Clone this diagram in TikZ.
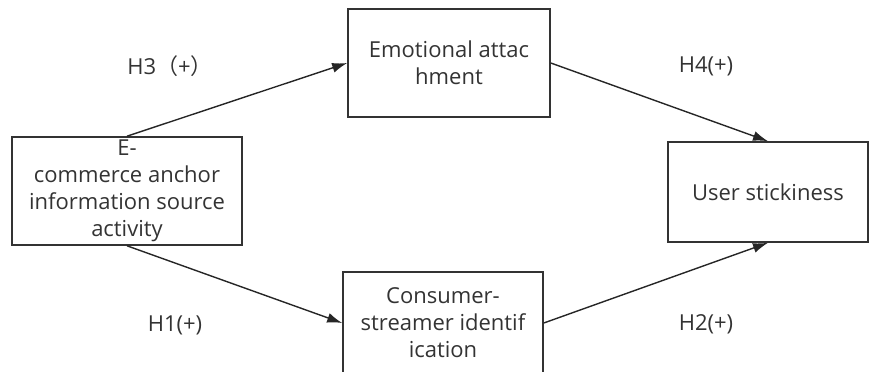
\documentclass[tikz,border=0pt]{standalone}
\usepackage{fontspec}
\setmainfont{Open Sans}
\newfontfamily\cjkfont{Noto Sans CJK SC}
\usepackage{tikz}
\usetikzlibrary{arrows.meta}

\begin{document}
\begin{tikzpicture}[x=1pt,y=-1pt,
    box/.style={draw=black!80,line width=1.6pt,align=center,text=black!80,font=\fontsize{22}{27}\selectfont,inner sep=0pt},
    hyp/.style={text=black!80,font=\fontsize{22}{26}\selectfont},
    link/.style={draw=black!85,line width=1.4pt,-{Latex[length=15pt,width=10pt]}}]
    \useasboundingbox (0,0) rectangle (870,372);
    \node[box,minimum width=230pt,minimum height=108pt] (src) at (127,191) {E-\\commerce anchor\\information source\\activity};
    \node[box,minimum width=202pt,minimum height=108pt] (emo) at (449,63) {Emotional attac\\hment};
    \node[box,minimum width=200pt,minimum height=102pt] (ident) at (443,323) {Consumer-\\streamer identif\\ication};
    \node[box,minimum width=200pt,minimum height=100pt] (stick) at (768,192) {User stickiness};
    \draw[link] (src.north) -- (emo.west);
    \draw[link] (src.south) -- (ident.west);
    \draw[link] (emo.east) -- (stick.north);
    \draw[link] (ident.east) -- (stick.south);
    \node[hyp] (h3) at (170,66) {H3{\cjkfont（}+{\cjkfont）}};
    \node[hyp] (h1) at (175,325) {H1(+)};
    \node[hyp] (h4) at (706,66) {H4(+)};
    \node[hyp] (h2) at (706,324) {H2(+)};
\end{tikzpicture}
\end{document}
